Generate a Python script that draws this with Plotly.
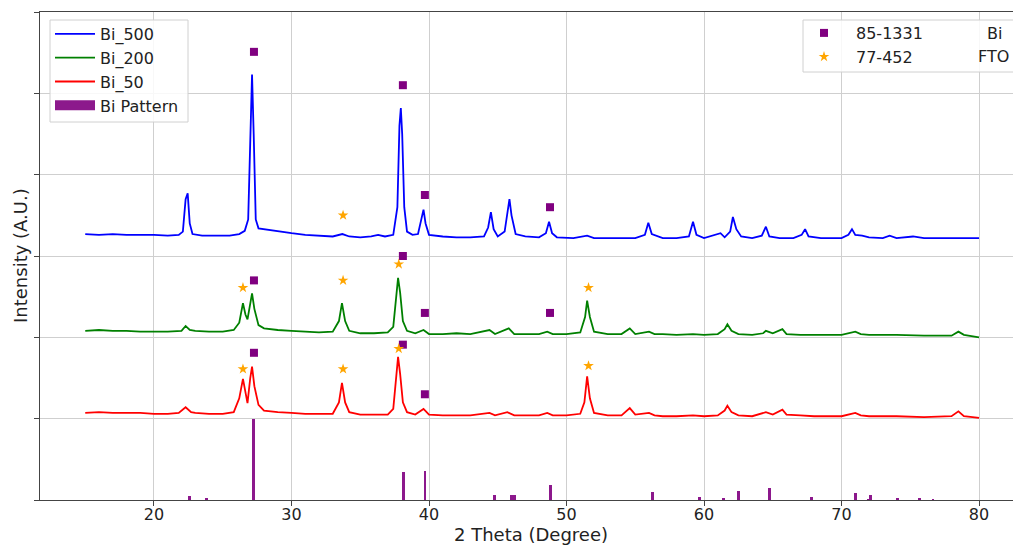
import plotly.graph_objects as go

# ---- XRD traces: (2theta, intensity offset) ----
bi500 = [
    (15.0, 3.27), (16.0, 3.26), (17.0, 3.27), (18.0, 3.26), (19.0, 3.26), (20.0, 3.26),
    (21.0, 3.25), (21.8, 3.26), (22.1, 3.30), (22.3, 3.70), (22.45, 3.77), (22.6, 3.40),
    (22.8, 3.27), (23.5, 3.25), (24.5, 3.25), (25.5, 3.25), (26.2, 3.27), (26.6, 3.31),
    (26.85, 3.45), (27.0, 4.60), (27.13, 5.23), (27.25, 4.50), (27.4, 3.45), (27.6, 3.34),
    (28.0, 3.33), (28.5, 3.31), (29.0, 3.30), (30.0, 3.28), (31.0, 3.26), (32.0, 3.25),
    (33.0, 3.24), (33.7, 3.27), (34.2, 3.24), (35.0, 3.23), (35.8, 3.24), (36.3, 3.26),
    (36.8, 3.24), (37.4, 3.26), (37.7, 3.60), (37.85, 4.60), (37.95, 4.82), (38.05, 4.50),
    (38.2, 3.60), (38.4, 3.30), (38.8, 3.26), (39.2, 3.27), (39.45, 3.45), (39.6, 3.57),
    (39.75, 3.40), (40.0, 3.26), (41.0, 3.24), (42.0, 3.23), (43.0, 3.23), (44.0, 3.24),
    (44.3, 3.35), (44.5, 3.54), (44.7, 3.33), (45.0, 3.24), (45.5, 3.30), (45.75, 3.62),
    (45.85, 3.70), (46.0, 3.50), (46.3, 3.27), (47.0, 3.24), (48.0, 3.23), (48.5, 3.28),
    (48.73, 3.42), (48.95, 3.28), (49.3, 3.23), (50.5, 3.22), (51.5, 3.25), (52.0, 3.22),
    (53.0, 3.22), (54.0, 3.22), (55.0, 3.22), (55.7, 3.26), (55.95, 3.41), (56.2, 3.27),
    (57.0, 3.22), (58.0, 3.22), (58.9, 3.24), (59.2, 3.42), (59.45, 3.26), (60.0, 3.22),
    (61.0, 3.27), (61.2, 3.28), (61.5, 3.23), (61.9, 3.30), (62.1, 3.48), (62.35, 3.33),
    (62.7, 3.24), (63.5, 3.22), (64.2, 3.25), (64.5, 3.36), (64.75, 3.24), (65.5, 3.22),
    (66.5, 3.22), (67.1, 3.26), (67.35, 3.33), (67.6, 3.24), (68.5, 3.22), (70.0, 3.22),
    (70.5, 3.26), (70.76, 3.33), (71.0, 3.26), (71.5, 3.25), (72.0, 3.23), (73.0, 3.22),
    (73.5, 3.25), (74.0, 3.22), (75.2, 3.24), (76.0, 3.22), (77.0, 3.22), (78.0, 3.22),
    (79.0, 3.22), (80.0, 3.22),
]

bi200 = [
    (15.0, 2.08), (16.0, 2.09), (17.0, 2.08), (18.0, 2.08), (19.0, 2.07), (20.0, 2.07),
    (21.0, 2.07), (22.0, 2.08), (22.3, 2.14), (22.6, 2.09), (23.0, 2.08), (24.0, 2.07),
    (25.0, 2.07), (25.8, 2.09), (26.2, 2.18), (26.47, 2.42), (26.65, 2.28), (26.8, 2.22),
    (27.0, 2.45), (27.13, 2.54), (27.3, 2.35), (27.6, 2.15), (28.0, 2.11), (29.0, 2.09),
    (30.0, 2.08), (31.0, 2.07), (32.0, 2.06), (33.0, 2.07), (33.45, 2.20), (33.67, 2.42),
    (33.9, 2.20), (34.2, 2.08), (35.0, 2.05), (36.0, 2.05), (37.0, 2.06), (37.4, 2.13),
    (37.6, 2.45), (37.75, 2.73), (37.9, 2.55), (38.1, 2.20), (38.4, 2.08), (39.0, 2.05),
    (39.6, 2.09), (40.0, 2.04), (41.0, 2.04), (42.0, 2.05), (43.0, 2.04), (44.4, 2.09),
    (44.8, 2.04), (45.8, 2.11), (46.2, 2.04), (47.0, 2.04), (48.0, 2.04), (48.6, 2.07),
    (49.0, 2.04), (50.0, 2.04), (51.0, 2.06), (51.35, 2.25), (51.5, 2.45), (51.7, 2.25),
    (52.0, 2.07), (53.0, 2.04), (54.0, 2.04), (54.6, 2.11), (55.0, 2.04), (56.0, 2.07),
    (56.4, 2.04), (57.0, 2.04), (58.0, 2.03), (59.2, 2.04), (60.0, 2.03), (61.0, 2.04),
    (61.5, 2.10), (61.7, 2.16), (62.0, 2.08), (62.5, 2.04), (63.5, 2.03), (64.3, 2.05),
    (64.5, 2.08), (65.0, 2.05), (65.7, 2.10), (66.0, 2.04), (67.0, 2.03), (68.0, 2.03),
    (69.0, 2.03), (70.0, 2.03), (71.0, 2.07), (71.4, 2.04), (72.0, 2.03), (74.0, 2.03),
    (76.0, 2.02), (78.0, 2.02), (78.5, 2.07), (78.9, 2.03), (80.0, 2.00),
]

bi50 = [
    (15.0, 1.07), (16.0, 1.08), (17.0, 1.07), (18.0, 1.07), (19.0, 1.07), (20.0, 1.06),
    (21.0, 1.06), (21.8, 1.07), (22.3, 1.14), (22.7, 1.08), (23.0, 1.07), (24.0, 1.06),
    (25.0, 1.06), (25.8, 1.08), (26.2, 1.25), (26.47, 1.49), (26.65, 1.30), (26.8, 1.19),
    (27.0, 1.50), (27.13, 1.64), (27.3, 1.40), (27.6, 1.17), (28.0, 1.10), (29.0, 1.08),
    (30.0, 1.07), (31.0, 1.06), (32.0, 1.06), (33.0, 1.06), (33.45, 1.20), (33.67, 1.44),
    (33.9, 1.20), (34.2, 1.08), (35.0, 1.05), (36.0, 1.05), (37.0, 1.05), (37.4, 1.12),
    (37.6, 1.45), (37.75, 1.76), (37.9, 1.55), (38.1, 1.20), (38.4, 1.08), (39.0, 1.05),
    (39.6, 1.12), (40.0, 1.05), (41.0, 1.04), (42.0, 1.04), (43.0, 1.04), (44.4, 1.07),
    (44.8, 1.04), (45.7, 1.08), (46.2, 1.04), (47.0, 1.04), (48.0, 1.04), (48.6, 1.07),
    (49.0, 1.04), (50.0, 1.04), (51.0, 1.06), (51.3, 1.20), (51.5, 1.52), (51.7, 1.25),
    (52.0, 1.07), (53.0, 1.04), (54.0, 1.04), (54.6, 1.13), (55.0, 1.05), (56.0, 1.07),
    (56.4, 1.04), (57.0, 1.03), (58.0, 1.03), (59.2, 1.04), (60.0, 1.03), (61.0, 1.04),
    (61.5, 1.10), (61.7, 1.16), (62.0, 1.08), (62.5, 1.04), (63.5, 1.03), (64.5, 1.08),
    (65.0, 1.05), (65.7, 1.11), (66.0, 1.05), (67.0, 1.04), (68.0, 1.03), (69.0, 1.03),
    (70.0, 1.03), (71.0, 1.07), (71.4, 1.04), (72.0, 1.03), (74.0, 1.03), (76.0, 1.02),
    (78.0, 1.03), (78.5, 1.09), (78.9, 1.03), (80.0, 1.01),
]

# ---- Bi reference pattern (JCPDS 85-1331), relative intensities ----
pattern_pos = [22.57, 23.83, 27.25, 38.13, 39.71, 44.75, 46.02, 46.22, 48.85, 56.24,
               59.66, 61.40, 62.50, 64.75, 67.83, 71.03, 71.95, 72.12, 74.06, 75.66, 76.65]
pattern_int = [0.05, 0.02, 1.00, 0.34, 0.36, 0.06, 0.06, 0.065, 0.18, 0.10,
               0.04, 0.025, 0.115, 0.15, 0.035, 0.09, 0.01, 0.06, 0.02, 0.025, 0.01]

# ---- phase markers above the peaks ----
bi_mark_x = [27.27, 38.1, 39.7, 48.8, 27.27, 38.1, 39.7, 48.8, 27.27, 38.1, 39.7]
bi_mark_y = [5.51, 5.10, 3.75, 3.60, 2.70, 3.00, 2.30, 2.30, 1.81, 1.91, 1.30]
fto_mark_x = [33.75, 26.47, 33.75, 37.8, 51.6, 26.47, 33.75, 37.8, 51.6]
fto_mark_y = [3.50, 2.61, 2.70, 2.90, 2.61, 1.61, 1.61, 1.86, 1.65]

tick_vals = [20, 30, 40, 50, 60, 70, 80]

PURPLE = "#800080"


def unzip(pairs):
    return [p[0] for p in pairs], [p[1] for p in pairs]


fig = go.Figure()

for name, pairs, color in [("Bi_500", bi500, "#0000ff"),
                           ("Bi_200", bi200, "#008000"),
                           ("Bi_50", bi50, "#ff0000")]:
    xs, ys = unzip(pairs)
    fig.add_trace(go.Scatter(x=xs, y=ys, mode="lines", name=name,
                             line=dict(color=color, width=1.8), legend="legend"))

# stick pattern along the baseline
fig.add_trace(go.Bar(x=pattern_pos, y=pattern_int, width=0.2, name="Bi Pattern",
                     marker=dict(color=PURPLE, line=dict(width=0)), opacity=0.9,
                     showlegend=False))
# wide swatch for the pattern's legend entry
fig.add_trace(go.Scatter(x=[None], y=[None], mode="lines", name="Bi Pattern",
                         line=dict(color=PURPLE, width=12), opacity=0.9,
                         legend="legend"))

fig.add_trace(go.Scatter(x=bi_mark_x, y=bi_mark_y, mode="markers", name="85-1331",
                         marker=dict(symbol="square", size=8, color=PURPLE),
                         legend="legend2"))
fig.add_trace(go.Scatter(x=fto_mark_x, y=fto_mark_y, mode="markers", name="77-452",
                         marker=dict(symbol="star", size=8, color="#ffa500"),
                         legend="legend2"))

W, H = 1013, 545
L, R, T, B = 40, 0, 12, 45
pw, ph = W - L - R, H - T - B


def px_x(p):
    return (p - L) / pw


def px_y(p):
    return (H - B - p) / ph


box_line = dict(color="#d0d0d0", width=1)
box_fill = "rgba(255,255,255,0.85)"

fig.update_layout(
    width=W, height=H,
    margin=dict(l=L, r=R, t=T, b=B),
    plot_bgcolor="white", paper_bgcolor="white",
    font=dict(family="DejaVu Sans", size=16, color="#222"),
    bargap=0,
    legend=dict(x=px_x(50), y=px_y(17), xanchor="left", yanchor="top",
                bgcolor="rgba(0,0,0,0)", borderwidth=0, itemwidth=40,
                font=dict(size=16, color="#222"), traceorder="normal"),
    legend2=dict(x=px_x(792), y=px_y(16), xanchor="left", yanchor="top",
                 bgcolor="rgba(0,0,0,0)", borderwidth=0, itemwidth=54,
                 font=dict(size=16, color="#222")),
    xaxis=dict(range=[11.71, 82.47], tickvals=tick_vals, showgrid=True,
               gridcolor="#cfcfcf", gridwidth=1, showline=True, linecolor="#444",
               linewidth=1, mirror=True, ticks="outside", ticklen=5, tickcolor="#444",
               zeroline=False, tickfont=dict(size=16), automargin=False,
               ticklabelstandoff=-5),
    yaxis=dict(range=[0, 6], dtick=1, showticklabels=False, showgrid=True,
               gridcolor="#cfcfcf", gridwidth=1, showline=True, linecolor="#444",
               linewidth=1, ticks="outside", ticklen=5, tickcolor="#444",
               zeroline=False, automargin=False),
    shapes=[
        dict(type="rect", xref="paper", yref="paper",
             x0=px_x(50), x1=px_x(188), y0=px_y(122), y1=px_y(20),
             fillcolor=box_fill, line=box_line, layer="above"),
        dict(type="rect", xref="paper", yref="paper",
             x0=px_x(803), x1=px_x(1030), y0=px_y(72), y1=px_y(20),
             fillcolor=box_fill, line=box_line, layer="above"),
    ],
    annotations=[
        dict(text="Bi", xref="paper", yref="paper", x=px_x(994), y=px_y(33),
             xanchor="center", yanchor="middle", showarrow=False,
             font=dict(size=16, color="#222")),
        dict(text="FTO", xref="paper", yref="paper", x=px_x(993), y=px_y(57),
             xanchor="center", yanchor="middle", showarrow=False,
             font=dict(size=16, color="#222")),
        dict(text="2 Theta (Degree)", xref="paper", yref="paper", x=px_x(531), y=px_y(534),
             xanchor="center", yanchor="middle", showarrow=False,
             font=dict(size=18, color="#222")),
        dict(text="Intensity (A.U.)", xref="paper", yref="paper", x=px_x(20), y=px_y(256),
             xanchor="center", yanchor="middle", showarrow=False, textangle=-90,
             font=dict(size=18, color="#222")),
    ],
)

fig.write_html("out.html")
